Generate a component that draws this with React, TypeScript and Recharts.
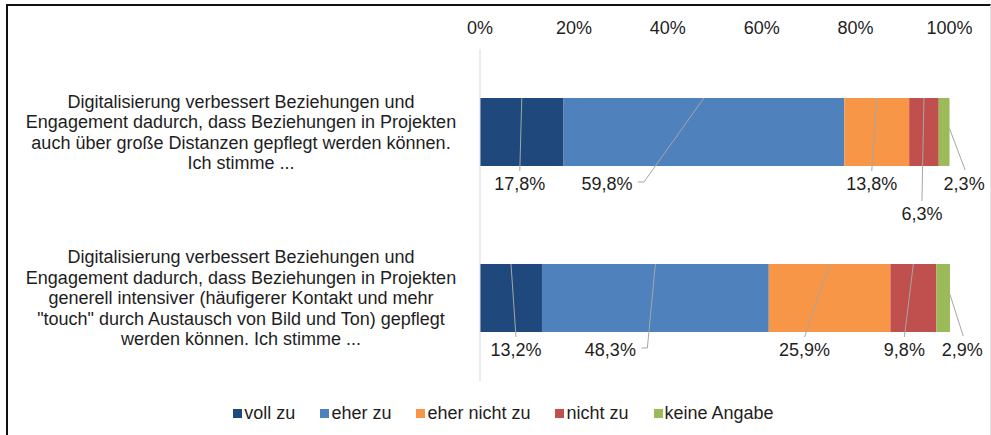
import { Bar, BarChart, LabelList, Legend, XAxis, YAxis } from "recharts";

// survey answers, share of respondents in %
const categories = [
  "Digitalisierung verbessert Beziehungen und\nEngagement dadurch, dass Beziehungen in Projekten\nauch über große Distanzen gepflegt werden können.\nIch stimme ...",
  "Digitalisierung verbessert Beziehungen und\nEngagement dadurch, dass Beziehungen in Projekten\ngenerell intensiver (häufigerer Kontakt und mehr\n\"touch\" durch Austausch von Bild und Ton) gepflegt\nwerden können. Ich stimme ..."
];
const vollZu = [17.8, 13.2];
const eherZu = [59.8, 48.3];
const eherNichtZu = [13.8, 25.9];
const nichtZu = [6.3, 9.8];
const keineAngabe = [2.3, 2.9];
const xTicks = [0, 20, 40, 60, 80, 100];

const FONT = '"Liberation Sans", Arial, sans-serif';
const TEXT = "#1e1e1e";
const LEADER = "#a6a6a6";

const series = [
  { key: "vollZu", name: "voll zu", values: vollZu, color: "#1f497d" },
  { key: "eherZu", name: "eher zu", values: eherZu, color: "#4f81bd" },
  { key: "eherNichtZu", name: "eher nicht zu", values: eherNichtZu, color: "#f79646" },
  { key: "nichtZu", name: "nicht zu", values: nichtZu, color: "#c0504d" },
  { key: "keineAngabe", name: "keine Angabe", values: keineAngabe, color: "#9bbb59" }
];

const rows = categories.map((name, i) => {
  const row: Record<string, string | number> = { name };
  series.forEach((s) => {
    row[s.key] = s.values[i];
  });
  return row;
});

// where each data label sits relative to its segment (Excel labels were dragged by hand)
type Leader = "diag" | "elbow" | "edge";
type Placement = { dx: number; drop: number; leader: Leader };
const placement: Record<string, Placement[]> = {
  vollZu: [
    { dx: -2, drop: 0, leader: "diag" },
    { dx: 5, drop: 0, leader: "diag" }
  ],
  eherZu: [
    { dx: -97, drop: 0, leader: "elbow" },
    { dx: -45, drop: 0, leader: "elbow" }
  ],
  eherNichtZu: [
    { dx: -5, drop: 0, leader: "diag" },
    { dx: -25, drop: 0, leader: "diag" }
  ],
  nichtZu: [
    { dx: -2, drop: 30, leader: "diag" },
    { dx: -9, drop: 0, leader: "diag" }
  ],
  keineAngabe: [
    { dx: 20, drop: 0, leader: "edge" },
    { dx: 19, drop: 0, leader: "edge" }
  ]
};

const fmt = (v: number) => v.toFixed(1).replace(".", ",") + "%";

function makeLabel(key: string) {
  return (props: any) => {
    const vb = props.viewBox ?? props;
    const x = Number(vb.x ?? props.x);
    const y = Number(vb.y ?? props.y);
    const width = Number(vb.width ?? props.width);
    const height = Number(vb.height ?? props.height);
    const index = props.index ?? 0;
    const raw = Array.isArray(props.value) ? props.value[1] - props.value[0] : props.value;
    const p = placement[key][index];
    if (!p) return null;
    const segCx = x + width / 2;
    const bottom = y + height;
    const lx = segCx + p.dx;
    const ly = bottom + 18 + p.drop;
    let d = "";
    if (p.leader === "diag") {
      d = `M${segCx},${y} L${lx},${ly - 13}`;
    } else if (p.leader === "elbow") {
      d = `M${segCx},${y} L${lx + 37},${ly - 2} L${lx + 31},${ly - 2}`;
    } else {
      d = `M${x + width},${y + height * 0.45} L${lx + 1},${ly - 14}`;
    }
    return (
      <g>
        <path d={d} stroke={LEADER} strokeWidth={1} fill="none" />
        <text
          x={lx}
          y={ly}
          textAnchor="middle"
          dominantBaseline="central"
          fontSize={18}
          fontFamily={FONT}
          fill={TEXT}
        >
          {fmt(Number(raw))}
        </text>
      </g>
    );
  };
}

function CategoryTick(props: any) {
  const { x, y, payload } = props;
  const lines = String(payload.value).split("\n");
  const lh = 20.5;
  const cx = x - 239;
  const top = y - ((lines.length - 1) * lh) / 2;
  return (
    <text textAnchor="middle" fontSize={18} fontFamily={FONT} fill={TEXT}>
      {lines.map((line, i) => (
        <tspan key={i} x={cx} y={top + i * lh} dy="0.35em">
          {line}
        </tspan>
      ))}
    </text>
  );
}

function LegendRow() {
  return (
    <div
      style={{
        display: "flex",
        justifyContent: "center",
        gap: 25,
        paddingLeft: 16,
        height: 24,
        lineHeight: "24px",
        fontSize: 18,
        fontFamily: FONT,
        color: TEXT
      }}
    >
      {series.map((s) => (
        <span key={s.key} style={{ display: "flex", alignItems: "center" }}>
          <span style={{ width: 9, height: 9, background: s.color, marginRight: 2 }} />
          {s.name}
        </span>
      ))}
    </div>
  );
}

export default function App() {
  return (
    <div
      style={{
        position: "absolute",
        left: 0,
        top: 0,
        width: 991,
        height: 435,
        background: "#fff",
        overflow: "hidden"
      }}
    >
      <div
        style={{
          position: "absolute",
          left: 6,
          top: 4,
          width: 985,
          height: 440,
          boxSizing: "border-box",
          borderTop: "2px solid #111",
          borderLeft: "2px solid #111",
          borderRight: "1px solid #e2e2e2"
        }}
      />
      <BarChart
        width={991}
        height={435}
        data={rows}
        layout="vertical"
        barCategoryGap="29.5%"
        margin={{ top: 19, right: 41, bottom: 30, left: 0 }}
        style={{ position: "absolute", left: 0, top: 0 }}
      >
        <XAxis
          type="number"
          orientation="top"
          domain={[0, 100]}
          ticks={xTicks}
          interval={0}
          height={30}
          tickFormatter={(v) => `${v}%`}
          axisLine={false}
          tickLine={false}
          tickSize={0}
          tickMargin={15}
          tick={{ fontSize: 18, fontFamily: FONT, fill: TEXT }}
        />
        <YAxis
          type="category"
          dataKey="name"
          width={480}
          axisLine={{ stroke: "#d9d9d9" }}
          tickLine={false}
          tickSize={0}
          tickMargin={0}
          tick={<CategoryTick />}
        />
        <Legend
          verticalAlign="bottom"
          height={24}
          wrapperStyle={{ left: 0, width: 991, top: 401 }}
          content={() => <LegendRow />}
        />
        {series.map((s) => (
          <Bar
            key={s.key}
            dataKey={s.key}
            name={s.name}
            stackId="a"
            fill={s.color}
            isAnimationActive={false}
          >
            <LabelList dataKey={s.key} content={makeLabel(s.key)} />
          </Bar>
        ))}
      </BarChart>
    </div>
  );
}
